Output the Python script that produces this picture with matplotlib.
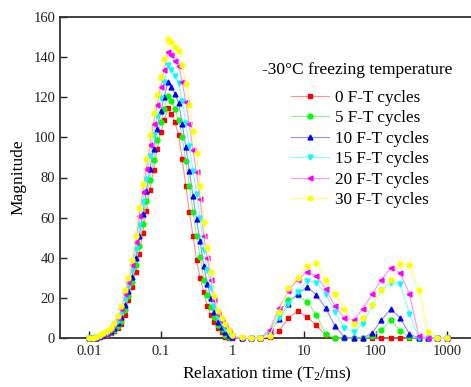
import numpy as np
import matplotlib
matplotlib.use("Agg")
import matplotlib.pyplot as plt
from matplotlib.ticker import FixedLocator, FixedFormatter, NullLocator

plt.rcParams['font.family'] = ['Liberation Serif', 'DejaVu Serif']
plt.rcParams['mathtext.fontset'] = 'custom'
plt.rcParams['mathtext.rm'] = 'Liberation Serif'
plt.rcParams['mathtext.it'] = 'Liberation Serif:italic'

# relaxation time grid (ms)
t2 = [0.0100, 0.0112, 0.0126, 0.0141, 0.0158, 0.0178, 0.0200, 0.0224, 0.0251, 0.0282,
      0.0316, 0.0355, 0.0398, 0.0447, 0.0501, 0.0562, 0.0631, 0.0708, 0.0794, 0.0891,
      0.100, 0.112, 0.126, 0.141, 0.158, 0.178, 0.200, 0.224, 0.251, 0.282,
      0.316, 0.355, 0.398, 0.447, 0.501, 0.562, 0.631, 0.708, 0.794, 0.891,
      1.00, 1.35, 1.82, 2.45, 3.31, 4.47, 6.03, 8.13, 11.0, 14.8,
      20.0, 26.9, 36.3, 49.0, 66.1, 89.1, 120, 162, 219, 295,
      398, 537, 724, 977]

cyc0 = [0, 0, 0, 0.5, 1, 1.5, 2.5, 3.5, 5, 7, 11.5, 19, 25.5, 33, 42, 52.5, 63.5, 74, 83.5, 94,
        102.5, 108.5, 114.5, 111.5, 107.5, 101, 89, 76, 63, 51, 39, 30, 23, 16, 11.5, 8, 5, 3, 0.5, 0,
        0, 0, 0, 0, 0.5, 3.5, 10, 13.3, 10.5, 6.3, 1.5, 0, 0, 0, 0, 0, 0, 0, 0, 0, 0, 0, 0, 0]
cyc5 = [0, 0, 0, 0.7, 1.3, 1.9, 3, 4.2, 6.1, 8.6, 13.8, 21, 27.9, 36.2, 46.1, 56.9, 68.1, 78.9, 88.6, 98.9,
        107.5, 114, 120.7, 118, 114.3, 108.6, 100, 88, 76, 63, 51, 40.5, 29.1, 21.2, 15.4, 10.3, 6.5, 4.3, 1.7, 0.7,
        0.3, 0, 0, 0, 3, 12.5, 19, 21.5, 18, 11.5, 2, 0, 0, 0, 0, 1, 4, 9, 3.5, 0.5, 0, 0, 0, 0]
cyc10 = [0, 0, 0.2, 0.9, 1.6, 2.3, 3.5, 5, 7.3, 10.4, 16.3, 23.2, 30.6, 39.8, 50.7, 61.8, 73.2, 84.3, 94.3, 104.3,
         113, 120.1, 127.6, 125.2, 121.8, 117, 106.9, 95.2, 83.1, 70.8, 59.1, 48.2, 35.9, 27, 19.7, 12.9, 8.2, 5.7, 3, 1.5,
         0.6, 0, 0, 0, 3, 9.5, 17, 22, 25.5, 21.5, 15, 6, 0.5, 0, 0, 2.5, 9, 14.5, 10, 2, 0, 0, 0, 0]
cyc15 = [0, 0, 0.3, 1.1, 1.9, 2.7, 4.1, 6, 8.7, 12.6, 19.3, 25.8, 33.9, 44.2, 56.3, 67.7, 79.3, 90.7, 101.2, 110.7,
         119.6, 127.4, 135.9, 133.8, 130.8, 127, 118.1, 107.3, 95.9, 83.2, 71.9, 59.8, 44.1, 34, 24.8, 16.1, 10.3, 7.3, 4.5, 2.5,
         0.9, 0, 0, 0, 3, 10, 17, 23, 28.5, 27.5, 22, 13, 5, 3, 7, 16, 24, 27.5, 27, 12, 0, 0, 0, 0]
cyc20 = [0, 0, 0.4, 1.3, 2.2, 3.1, 4.6, 6.8, 9.9, 14.4, 21.8, 28, 36.6, 47.8, 60.9, 72.6, 84.4, 96.1, 106.9, 116.1,
         125.1, 133.5, 142.8, 141, 138.3, 135.4, 127.5, 117.4, 106.5, 93.6, 82.5, 69.4, 50.9, 39.8, 29.1, 18.7, 12, 8.7, 5.8, 3.3,
         1.2, 0, 0, 0, 4, 15, 23.5, 29, 33, 31, 24.5, 16, 10, 9, 14.5, 22, 29, 35, 32.5, 22, 1, 0, 0, 0]
cyc30 = [0, 0, 0.5, 1.5, 2.5, 3.5, 5, 7.5, 11, 16, 24, 30, 39, 51, 65, 77, 89, 101, 112, 121,
         130, 139, 149, 147.5, 145, 143, 136, 126.5, 116, 103, 92, 76, 58, 45, 33, 21, 13.5, 10, 7, 4,
         1.5, 0.5, 0, 0, 1, 13, 25, 30, 36, 37.5, 29, 22, 14.5, 7, 10, 16.5, 24, 29, 37, 36.5, 24, 3, 0, 0]

labels = ["0 F-T cycles", "5 F-T cycles", "10 F-T cycles",
          "15 F-T cycles", "20 F-T cycles", "30 F-T cycles"]
series = [cyc0, cyc5, cyc10, cyc15, cyc20, cyc30]
colors = ["#ff0000", "#00ff00", "#0000ff", "#00ffff", "#ff00ff", "#ffff00"]
lines = ["#ff9090", "#90f090", "#9090ff", "#80ffff", "#ff90ff", "#ffff70"]
markers = ["s", "o", "^", "v", "<", "o"]

fig = plt.figure(figsize=(4.71, 3.87), dpi=100)
ax = fig.add_axes([60 / 471, 49 / 387, 414 / 471, 321 / 387])

for y, lab, c, lc, m in zip(series, labels, colors, lines, markers):
    ax.plot(t2, y, color=lc, lw=0.8, marker=m, ms=3.5, mfc=c, mec=c,
            label=lab, clip_on=False, zorder=3)

ax.set_xscale("log")
ax.set_xlim(0.00394, 2344)
ax.set_ylim(0, 160)

xt = [0.01, 0.1, 1, 10, 100, 1000]
ax.xaxis.set_major_locator(FixedLocator(xt))
ax.xaxis.set_major_formatter(FixedFormatter(["0.01", "0.1", "1", "10", "100", "1000"]))
ax.xaxis.set_minor_locator(NullLocator())
ax.set_yticks(np.arange(0, 161, 20))
ax.tick_params(direction="in", length=5, width=1, labelsize=10.5, colors="#222222")
ax.tick_params(axis="x", pad=5)

for s in ax.spines.values():
    s.set_linewidth(1.3)
    s.set_color("#333333")

ax.set_xlabel("Relaxation time (T$_\\mathregular{2}$/ms)", fontsize=12.5, labelpad=5)
ax.set_ylabel("Magnitude", fontsize=12.5, labelpad=5)

fig.text(357.5 / 471, 1 - 70 / 387, "-30\u00b0C freezing temperature",
         ha="center", va="center", fontsize=12.5)
leg = ax.legend(loc="upper left", bbox_to_anchor=(291 / 471, 1 - 90 / 387),
                bbox_transform=fig.transFigure, frameon=False, fontsize=12.3,
                handlelength=2.2, handletextpad=0.35, labelspacing=0.26,
                numpoints=1, borderpad=0, borderaxespad=0)

fig.savefig("out.png", dpi=100)
